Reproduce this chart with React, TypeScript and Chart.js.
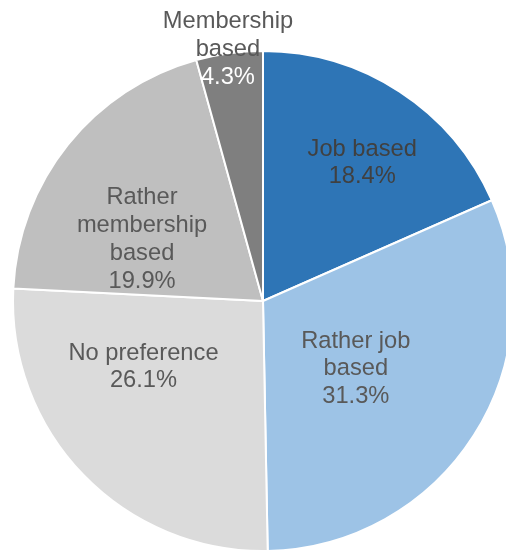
import React, { useEffect, useRef } from "react";
import { Chart, registerables } from "chart.js";

Chart.register(...registerables);

const categories = [
  "Job based",
  "Rather job based",
  "No preference",
  "Rather membership based",
  "Membership based",
];
const values = [18.4, 31.3, 26.1, 19.9, 4.3];
const labelLines = [
  ["Job based"],
  ["Rather job", "based"],
  ["No preference"],
  ["Rather", "membership", "based"],
  ["Membership", "based"],
];
const colors = ["#2E75B6", "#9DC3E6", "#DBDBDB", "#BFBFBF", "#7F7F7F"];
// label placement: angle offset (deg) from slice mid-angle, radius fraction
const labelAngleOffset = [2.6, 3.6, 15.2, -11.7, -0.2];
const labelRadiusFrac = [0.68, 0.46, 0.546, 0.543, 1.016];
const textColors = ["#404040", "#595959", "#595959", "#595959", "#595959"];
const valueColors = ["#404040", "#595959", "#595959", "#595959", "#FFFFFF"];

const labelPlugin = {
  id: "sliceLabels",
  afterDatasetsDraw(chart: any) {
    const ctx = chart.ctx;
    const meta = chart.getDatasetMeta(0);
    ctx.save();
    ctx.font = '23.7px "Liberation Sans", Arial, sans-serif';
    ctx.textAlign = "center";
    ctx.textBaseline = "middle";
    const lh = 27.8;
    meta.data.forEach((arc: any, i: number) => {
      const { x, y, startAngle, endAngle, outerRadius } = arc.getProps(
        ["x", "y", "startAngle", "endAngle", "outerRadius"],
        true
      );
      const a = (startAngle + endAngle) / 2 + (labelAngleOffset[i] * Math.PI) / 180;
      const r = outerRadius * labelRadiusFrac[i];
      const cx = x + Math.cos(a) * r;
      const cy = y + Math.sin(a) * r;
      const lines = [...labelLines[i], values[i].toFixed(1) + "%"];
      const n = lines.length;
      lines.forEach((t, j) => {
        ctx.fillStyle = j === n - 1 ? valueColors[i] : textColors[i];
        ctx.fillText(t, cx, cy + (j - (n - 1) / 2) * lh);
      });
    });
    ctx.restore();
  },
};

export default function App() {
  const ref = useRef<HTMLCanvasElement | null>(null);
  useEffect(() => {
    if (!ref.current) return;
    const chart = new Chart(ref.current, {
      type: "pie",
      data: {
        labels: categories,
        datasets: [
          {
            data: values,
            backgroundColor: colors,
            borderColor: "#FFFFFF",
            borderWidth: 2,
          },
        ],
      },
      options: {
        responsive: false,
        animation: false,
        devicePixelRatio: 1,
        layout: { padding: { left: 12, right: 12, top: 50, bottom: 2 } },
        plugins: {
          legend: { display: false },
          tooltip: { enabled: false },
        },
      },
      plugins: [labelPlugin],
    });
    return () => chart.destroy();
  }, []);
  return (
    <div
      style={{
        position: "fixed",
        left: 0,
        top: 0,
        width: 506,
        height: 554,
        overflow: "hidden",
        background: "#FFFFFF",
      }}
    >
      <canvas ref={ref} width={526} height={554} style={{ width: 526, height: 554 }} />
    </div>
  );
}
